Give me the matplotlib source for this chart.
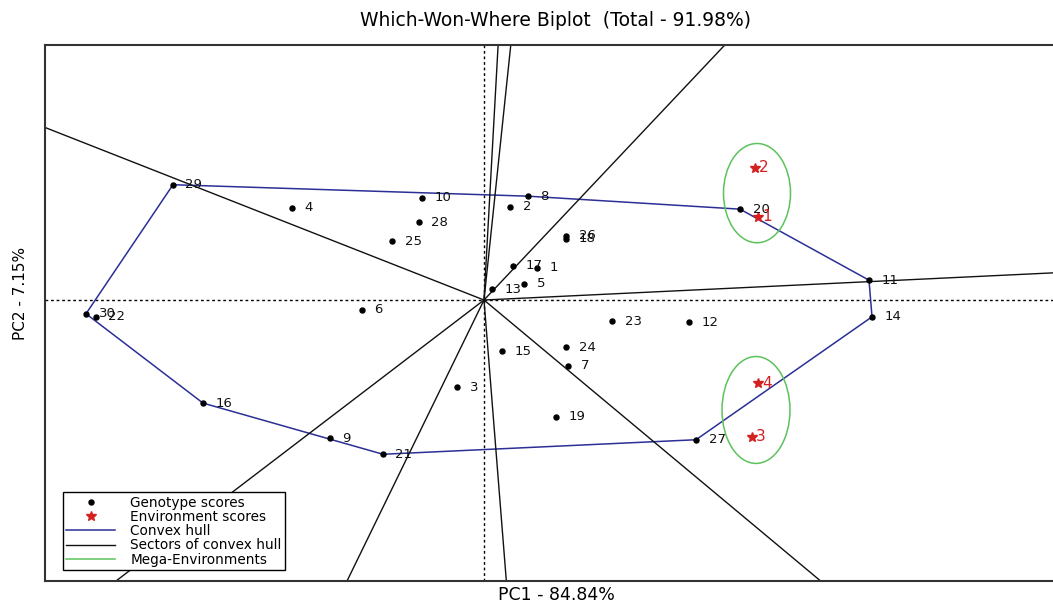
import numpy as np
import matplotlib
matplotlib.use("Agg")
import matplotlib.pyplot as plt
from matplotlib.patches import Ellipse
from matplotlib.lines import Line2D

# Genotype scores on the first two principal components
genotypes = [str(i) for i in range(1, 31)]
pc1 = [0.53, 0.26, -0.27, -1.92, 0.40, -1.22, 0.84, 0.44, -1.54, -0.62,
       3.85, 2.05, 0.08, 3.88, 0.18, -2.81, 0.29, 0.82, 0.72, 2.56,
       -1.01, -3.88, 1.28, 0.82, -0.92, 0.82, 2.12, -0.65, -3.11, -3.98]
pc2 = [0.42, 1.22, -1.14, 1.21, 0.21, -0.13, -0.86, 1.36, -1.81, 1.34,
       0.26, -0.29, 0.14, -0.22, -0.67, -1.35, 0.45, 0.80, -1.53, 1.19,
       -2.02, -0.22, -0.28, -0.62, 0.77, 0.84, -1.83, 1.02, 1.51, -0.18]

# Environment scores
environments = ["1", "2", "3", "4"]
env_pc1 = [2.74, 2.71, 2.68, 2.74]
env_pc2 = [1.09, 1.73, -1.79, -1.09]

# Mega-environment outlines (centre, full width, full height)
mega_pc1 = [2.73, 2.72]
mega_pc2 = [1.40, -1.44]
mega_w = [0.67, 0.68]
mega_h = [1.30, 1.40]

title = "Which-Won-Where Biplot  (Total - 91.98%)"
xlab = "PC1 - 84.84%"
ylab = "PC2 - 7.15%"

HULL_C = "#2b2f96"
SECT_C = "#111111"
GREEN = "#5cc35c"
RED = "#d42020"


def convex_hull(points):
    pts = sorted(set(points))

    def cross(o, a, b):
        return (a[0] - o[0]) * (b[1] - o[1]) - (a[1] - o[1]) * (b[0] - o[0])

    lower, upper = [], []
    for p in pts:
        while len(lower) >= 2 and cross(lower[-2], lower[-1], p) <= 0:
            lower.pop()
        lower.append(p)
    for p in reversed(pts):
        while len(upper) >= 2 and cross(upper[-2], upper[-1], p) <= 0:
            upper.pop()
        upper.append(p)
    return lower[:-1] + upper[:-1]


fig = plt.figure(figsize=(10.53, 6.07), dpi=100)
ax = fig.add_axes([45 / 1053, 26 / 607, 1022 / 1053, 536 / 607])
ax.set_xlim(-4.39, 5.83)
ax.set_ylim(-3.68, 3.34)
ax.set_xticks([])
ax.set_yticks([])
for side in ("left", "top", "bottom"):
    ax.spines[side].set_color("#333333")
    ax.spines[side].set_linewidth(1.5)
ax.spines["right"].set_visible(False)

# reference axes through the origin
ax.axhline(0, color="black", lw=1, ls=(0, (2, 2)), zorder=1)
ax.axvline(0, color="black", lw=1, ls=(0, (2, 2)), zorder=1)

# convex hull of genotype scores
hull = convex_hull(list(zip(pc1, pc2)))
hx = [p[0] for p in hull] + [hull[0][0]]
hy = [p[1] for p in hull] + [hull[0][1]]
ax.plot(hx, hy, color=HULL_C, lw=1.1, zorder=2)

# sector lines: rays from the origin perpendicular to every hull edge
for i in range(len(hull)):
    p1 = np.array(hull[i])
    p2 = np.array(hull[(i + 1) % len(hull)])
    d = p2 - p1
    t = -np.dot(p1, d) / np.dot(d, d)
    foot = p1 + t * d
    far = foot / np.linalg.norm(foot) * 30
    ax.plot([0, far[0]], [0, far[1]], color=SECT_C, lw=1.0, zorder=2)

# genotypes
ax.plot(pc1, pc2, "o", color="black", ms=3.6, zorder=4)
for g, x, y in zip(genotypes, pc1, pc2):
    ax.annotate(g, (x, y), xytext=(9, 0), textcoords="offset points",
                ha="left", va="center", fontsize=9.5, color="#111111", zorder=5)

# environments
ax.plot(env_pc1, env_pc2, "*", color=RED, ms=7, zorder=4)
for e, x, y in zip(environments, env_pc1, env_pc2):
    ax.annotate(e, (x, y), xytext=(3, 0), textcoords="offset points",
                ha="left", va="center", fontsize=11, color=RED, zorder=5)

# mega-environments
for cx, cy, w, h in zip(mega_pc1, mega_pc2, mega_w, mega_h):
    ax.add_patch(Ellipse((cx, cy), w, h, fill=False, edgecolor=GREEN, lw=1.1, zorder=3))

handles = [
    Line2D([], [], marker="o", ls="none", color="black", ms=3.6),
    Line2D([], [], marker="*", ls="none", color=RED, ms=7),
    Line2D([], [], color=HULL_C, lw=1.1),
    Line2D([], [], color=SECT_C, lw=1.0),
    Line2D([], [], color=GREEN, lw=1.1),
]
labels = ["Genotype scores", "Environment scores", "Convex hull",
          "Sectors of convex hull", "Mega-Environments"]
leg = ax.legend(handles, labels, loc="lower left", bbox_to_anchor=(0.0176, 0.0205),
                borderaxespad=0, fontsize=9.8, labelspacing=0.02, handlelength=3.6,
                handletextpad=1.1, borderpad=0.25, fancybox=False, framealpha=1,
                edgecolor="black")
leg.get_frame().set_linewidth(1.0)
leg.set_zorder(6)

fig.text(556 / 1053, 1 - 21 / 607, title, ha="center", va="center", fontsize=13.5)
fig.text(556 / 1053, 1 - 595 / 607, xlab, ha="center", va="center", fontsize=12.5)
fig.text(21 / 1053, 1 - 293 / 607, ylab, ha="center", va="center", fontsize=11,
         rotation=90)

fig.savefig("out.png", dpi=100)
